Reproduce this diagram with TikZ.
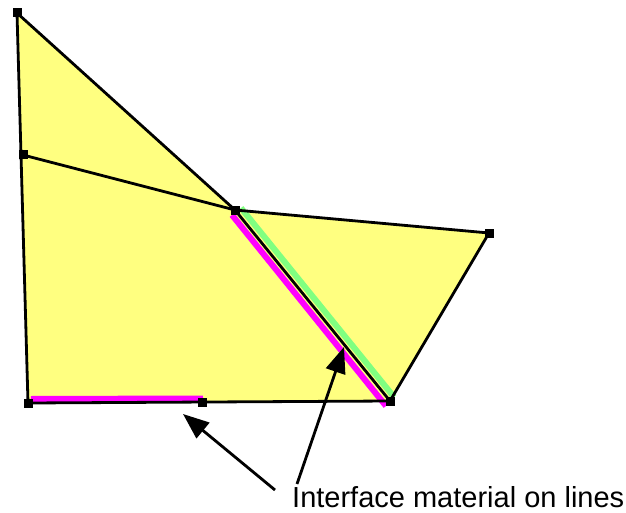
\documentclass[tikz,border=0pt]{standalone}
\usepackage{fontspec}
\setmainfont{Liberation Sans}
\usetikzlibrary{arrows.meta}
\definecolor{fillyel}{RGB}{255,255,128}
\definecolor{mag}{RGB}{255,0,255}
\definecolor{grn}{RGB}{128,255,128}
\tikzset{
  edge/.style={draw=black, line width=2.8pt},
  vtx/.style={fill=black, minimum size=9pt, inner sep=0pt, outer sep=0pt},
  pointer/.style={draw=black, line width=2.8pt, -{Triangle[length=26pt,width=20pt]}},
  iface/.style={line width=6pt}
}
\begin{document}
\begin{tikzpicture}[x=1pt,y=-1pt]
\useasboundingbox (0,0) rectangle (626,513);
\coordinate (A) at (17,13);
\coordinate (B) at (23,155);
\coordinate (C) at (235,210);
\coordinate (D) at (489,233);
\coordinate (E) at (390,401);
\coordinate (F) at (28,403);
\coordinate (G) at (202,402);
\fill[fillyel] (A) -- (C) -- (D) -- (E) -- (F) -- cycle;
% interface material
\draw[mag, iface] (31,399) -- (203,398.5);
\draw[mag, iface] (232,215) -- (386,406);
\draw[grn, iface] (241,208) -- (394,397);
% edges
\draw[edge] (A) -- (F);
\draw[edge] (A) -- (C);
\draw[edge] (B) -- (C);
\draw[edge] (C) -- (D);
\draw[edge] (D) -- (E);
\draw[edge] (C) -- (E);
\draw[edge] (F) -- (E);
% vertices
\foreach \p in {A,B,C,D,E,F,G} \node[vtx] (v\p) at (\p) {};
% label
\node[anchor=base west, font=\fontsize{29}{33}\selectfont, inner sep=0pt] (lbl) at (292,507) {Interface material on lines};
\coordinate (t1) at (275,490);
\coordinate (t2) at (297,484);
\draw[pointer] (t1) -- (183,414);
\draw[pointer] (t2) -- (344,347);
\end{tikzpicture}
\end{document}
